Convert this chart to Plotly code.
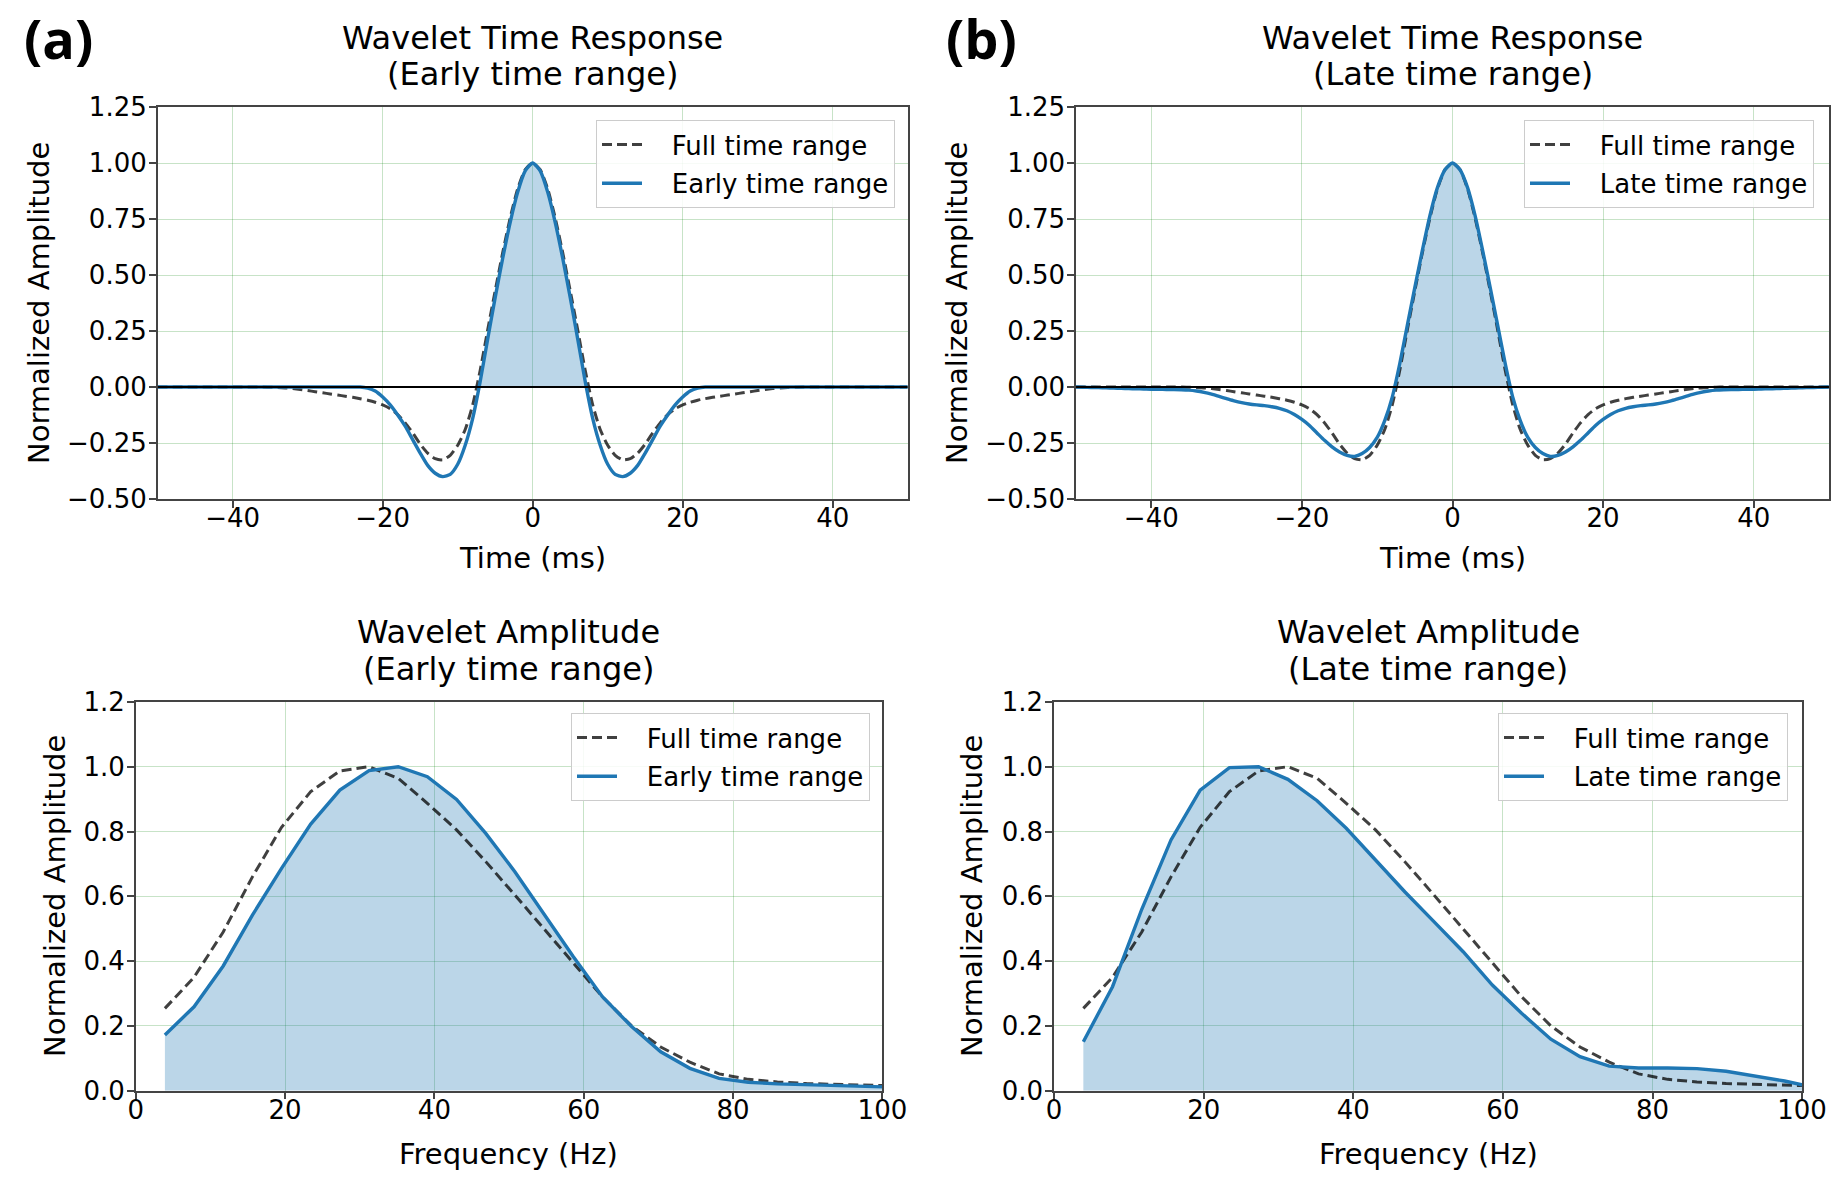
import plotly.graph_objects as go

# ---------------- data ----------------
t_ms = list(range(-50, 51))

full_time = [0.0]*15 + [
    -0.001, -0.002, -0.004, -0.007, -0.011, -0.016, -0.021, -0.026, -0.031, -0.036,
    -0.041, -0.046, -0.052, -0.059, -0.068, -0.08, -0.097, -0.123, -0.16, -0.205,
    -0.255, -0.295, -0.32, -0.325, -0.305, -0.26, -0.19, -0.08, 0.075, 0.255,
    0.43, 0.60, 0.755, 0.885, 0.97,
    1.0,
    0.97, 0.885, 0.755, 0.60, 0.43, 0.255, 0.075, -0.08, -0.19, -0.26,
    -0.305, -0.325, -0.32, -0.295, -0.255, -0.205, -0.16, -0.123, -0.097, -0.08,
    -0.068, -0.059, -0.052, -0.046, -0.041, -0.036, -0.031, -0.026, -0.021, -0.016,
    -0.011, -0.007, -0.004, -0.002, -0.001] + [0.0]*15

early_time = [0.0]*27 + [
    0.0, -0.005, -0.018, -0.045, -0.08, -0.125, -0.175, -0.235, -0.295, -0.35,
    -0.385, -0.40, -0.39, -0.345, -0.26, -0.14, 0.025, 0.215, 0.40, 0.575,
    0.735, 0.87, 0.965,
    1.0,
    0.965, 0.87, 0.735, 0.575, 0.40, 0.215, 0.025, -0.14, -0.26, -0.345,
    -0.39, -0.40, -0.385, -0.35, -0.295, -0.235, -0.175, -0.125, -0.08, -0.045,
    -0.018, -0.005, 0.0] + [0.0]*27

late_time = [
    0.0, -0.001, -0.002, -0.003, -0.004, -0.005, -0.006, -0.007, -0.008, -0.009,
    -0.01, -0.01, -0.011, -0.011, -0.012, -0.014, -0.018, -0.024, -0.032, -0.042,
    -0.052, -0.062, -0.07, -0.076, -0.08, -0.083, -0.088, -0.095, -0.106, -0.123,
    -0.145, -0.172, -0.205, -0.238, -0.267, -0.29, -0.305, -0.31, -0.297, -0.27,
    -0.225, -0.15, -0.045, 0.105, 0.275, 0.445, 0.61, 0.765, 0.89, 0.97,
    1.0,
    0.97, 0.89, 0.765, 0.61, 0.445, 0.275, 0.105, -0.045, -0.15, -0.225,
    -0.27, -0.297, -0.31, -0.305, -0.29, -0.267, -0.238, -0.205, -0.172, -0.145,
    -0.123, -0.106, -0.095, -0.088, -0.083, -0.08, -0.076, -0.07, -0.062, -0.052,
    -0.042, -0.032, -0.024, -0.018, -0.014, -0.012, -0.011, -0.011, -0.01, -0.01,
    -0.009, -0.008, -0.007, -0.006, -0.005, -0.004, -0.003, -0.002, -0.001, 0.0]

freq_hz = [3.91, 7.81, 11.72, 15.63, 19.53, 23.44, 27.34, 31.25, 35.16, 39.06,
           42.97, 46.88, 50.78, 54.69, 58.59, 62.50, 66.41, 70.31, 74.22, 78.13,
           82.03, 85.94, 89.84, 93.75, 97.66, 101.56]
full_amp = [0.254, 0.35, 0.49, 0.66, 0.813, 0.923, 0.987, 1.0, 0.964, 0.887,
            0.805, 0.707, 0.604, 0.50, 0.395, 0.29, 0.20, 0.135, 0.088, 0.052,
            0.035, 0.027, 0.022, 0.019, 0.017, 0.015]
early_amp = [0.172, 0.259, 0.385, 0.542, 0.686, 0.823, 0.928, 0.988, 1.0, 0.969,
             0.899, 0.794, 0.676, 0.547, 0.414, 0.29, 0.198, 0.12, 0.069, 0.038,
             0.026, 0.021, 0.018, 0.016, 0.013, 0.011]
late_amp = [0.151, 0.321, 0.56, 0.774, 0.928, 0.997, 1.0, 0.961, 0.895, 0.81,
            0.712, 0.614, 0.522, 0.429, 0.326, 0.239, 0.159, 0.105, 0.076, 0.07,
            0.07, 0.068, 0.06, 0.044, 0.03, 0.01]

time_ticks = [-40, -20, 0, 20, 40]
time_yticks = [-0.5, -0.25, 0.0, 0.25, 0.5, 0.75, 1.0, 1.25]
freq_ticks = [0, 20, 40, 60, 80, 100]
amp_yticks = [0.0, 0.2, 0.4, 0.6, 0.8, 1.0, 1.2]

# ---------------- style ----------------
W, H = 1846, 1185
BLUE = '#1f77b4'
FILL = 'rgba(31,119,180,0.3)'
DASH = 'rgba(0,0,0,0.75)'
FONT = 'DejaVu Sans'
NB = '\u00a0\u00a0\u00a0'

def px(x):
    return x / W

def py(y):
    return 1 - y / H

panels = {
    'TL': dict(x=(157.7, 907.7), y=(107.0, 499.0)),
    'TR': dict(x=(1076.0, 1829.0), y=(107.0, 499.0)),
    'BL': dict(x=(135.7, 882.4), y=(701.9, 1090.7)),
    'BR': dict(x=(1054.1, 1802.1), y=(701.9, 1090.7)),
}

fig = go.Figure()

def add_time(axn, legname, series, name):
    xa = 'x' if axn == 1 else f'x{axn}'
    ya = 'y' if axn == 1 else f'y{axn}'
    pos = [max(v, 0.0) for v in series]
    fig.add_trace(go.Scatter(x=t_ms, y=pos, mode='lines', line=dict(width=0, shape='spline', smoothing=0.6),
                             fill='tozeroy', fillcolor=FILL, showlegend=False, hoverinfo='skip',
                             xaxis=xa, yaxis=ya))
    fig.add_trace(go.Scatter(x=t_ms, y=full_time, mode='lines', name=NB + 'Full time range',
                             line=dict(color=DASH, width=3, dash='10px,5px', shape='spline', smoothing=0.6),
                             xaxis=xa, yaxis=ya, legend=legname, legendgroup=legname + 'a'))
    fig.add_trace(go.Scatter(x=t_ms, y=series, mode='lines', name=NB + name,
                             line=dict(color=BLUE, width=3.4, shape='spline', smoothing=0.6),
                             xaxis=xa, yaxis=ya, legend=legname, legendgroup=legname + 'b'))

def add_freq(axn, legname, series, name):
    xa = f'x{axn}'
    ya = f'y{axn}'
    fig.add_trace(go.Scatter(x=freq_hz, y=series, mode='lines', line=dict(width=0),
                             fill='tozeroy', fillcolor=FILL, showlegend=False, hoverinfo='skip',
                             xaxis=xa, yaxis=ya))
    fig.add_trace(go.Scatter(x=freq_hz, y=full_amp, mode='lines', name=NB + 'Full time range',
                             line=dict(color=DASH, width=3, dash='10px,5px'),
                             xaxis=xa, yaxis=ya, legend=legname, legendgroup=legname + 'a'))
    fig.add_trace(go.Scatter(x=freq_hz, y=series, mode='lines', name=NB + name,
                             line=dict(color=BLUE, width=3.4),
                             xaxis=xa, yaxis=ya, legend=legname, legendgroup=legname + 'b'))

add_time(1, 'legend', early_time, 'Early time range')
add_time(2, 'legend2', late_time, 'Late time range')
add_freq(3, 'legend3', early_amp, 'Early time range')
add_freq(4, 'legend4', late_amp, 'Late time range')

axis_common = dict(showline=True, mirror=True, linecolor='#444', linewidth=1.5,
                   ticks='outside', ticklen=7, tickwidth=1.5, tickcolor='#444',
                   showgrid=True, gridcolor='rgba(0,128,0,0.22)', gridwidth=1,
                   zeroline=False, automargin=False,
                   tickfont=dict(family=FONT, size=26, color='black'))

layout = dict(width=W, height=H, margin=dict(l=0, r=0, t=0, b=0, pad=0, autoexpand=False),
              paper_bgcolor='white', plot_bgcolor='white', showlegend=True)

keys = ['TL', 'TR', 'BL', 'BR']
for i, k in enumerate(keys, start=1):
    p = panels[k]
    xd = [px(p['x'][0]), px(p['x'][1])]
    yd = [py(p['y'][1]), py(p['y'][0])]
    sx = '' if i == 1 else str(i)
    if k in ('TL', 'TR'):
        xa = dict(axis_common, domain=xd, range=[-50, 50], tickvals=time_ticks, anchor='y' + sx,
                  ticklabelstandoff=-12)
        ya = dict(axis_common, domain=yd, range=[-0.5, 1.25], tickvals=time_yticks, tickformat='.2f',
                  anchor='x' + sx, ticklabelstandoff=-3)
    else:
        xa = dict(axis_common, domain=xd, range=[0, 100], tickvals=freq_ticks, anchor='y' + sx,
                  ticklabelstandoff=-12)
        ya = dict(axis_common, domain=yd, range=[0, 1.2], tickvals=amp_yticks, tickformat='.1f',
                  anchor='x' + sx, ticklabelstandoff=-3)
    layout['xaxis' + sx] = xa
    layout['yaxis' + sx] = ya

leg_common = dict(font=dict(family=FONT, size=26, color='black'), bgcolor='rgba(255,255,255,0.85)',
                  bordercolor='#cccccc', borderwidth=1, xanchor='right', yanchor='top',
                  itemwidth=40, tracegroupgap=2, traceorder='grouped')
layout['legend'] = dict(leg_common, x=px(895), y=py(120))
layout['legend2'] = dict(leg_common, x=px(1814), y=py(120))
layout['legend3'] = dict(leg_common, x=px(870), y=py(713))
layout['legend4'] = dict(leg_common, x=px(1788), y=py(713))

fig.update_layout(**layout)

# zero lines in the time plots
fig.add_shape(type='line', xref='x', yref='y', x0=-50, x1=50, y0=0, y1=0,
              line=dict(color='black', width=2), layer='above')
fig.add_shape(type='line', xref='x2', yref='y2', x0=-50, x1=50, y0=0, y1=0,
              line=dict(color='black', width=2), layer='above')

def ann(text, x, y, size, angle=0, xanchor='center', family=FONT, bold=False):
    fig.add_annotation(text=(f'<b>{text}</b>' if bold else text), x=px(x), y=py(y),
                       xref='paper', yref='paper', showarrow=False, textangle=angle,
                       xanchor=xanchor, yanchor='middle',
                       font=dict(family=family, size=size, color='black'))

# titles
for cx, l1, l2, y1, y2 in [
    (532.7, 'Wavelet Time Response', '(Early time range)', 38, 74),
    (1452.5, 'Wavelet Time Response', '(Late time range)', 38, 74),
    (509.0, 'Wavelet Amplitude', '(Early time range)', 632, 669),
    (1428.0, 'Wavelet Amplitude', '(Late time range)', 632, 669),
]:
    ann(l1, cx, y1, 32)
    ann(l2, cx, y2, 32)

# axis titles
ann('Time (ms)', 532.7, 558, 29)
ann('Time (ms)', 1452.5, 558, 29)
ann('Frequency (Hz)', 509.0, 1154, 29)
ann('Frequency (Hz)', 1428.0, 1154, 29)
ann('Normalized Amplitude', 39, 303, 29, angle=-90)
ann('Normalized Amplitude', 957, 303, 29, angle=-90)
ann('Normalized Amplitude', 55, 896, 29, angle=-90)
ann('Normalized Amplitude', 972, 896, 29, angle=-90)

# panel labels
ann('(a)', 22, 38, 54, xanchor='left', family='Open Sans', bold=True)
ann('(b)', 944, 38, 54, xanchor='left', family='Open Sans', bold=True)

fig.write_html('out.html')
